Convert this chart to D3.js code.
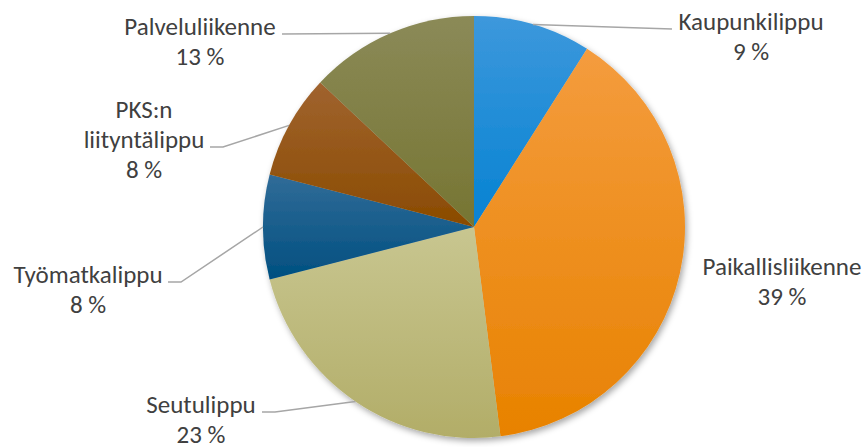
<!DOCTYPE html>
<html>
<head>
<meta charset="utf-8">
<script src="https://cdn.jsdelivr.net/npm/d3@7"></script>
<style>
  body { margin: 0; background: #fff; }
  svg { display: block; }
  text { font-family: Carlito, Calibri, "Open Sans", sans-serif; fill: #404040; }
</style>
</head>
<body>
<div id="chart"></div>
<script>
// data
var categories = ["Kaupunkilippu", "Paikallisliikenne", "Seutulippu", "Työmatkalippu", "PKS:n liityntälippu", "Palveluliikenne"];
var shares = [9, 39, 23, 8, 8, 13];
var labelLines = [["Kaupunkilippu"], ["Paikallisliikenne"], ["Seutulippu"], ["Työmatkalippu"], ["PKS:n", "liityntälippu"], ["Palveluliikenne"]];

// colours: light top / dark bottom
var colorTop = ["#3d98dc", "#f49c3e", "#c8c690", "#316c98", "#a0632f", "#8b8a58"];
var colorBot = ["#0582d2", "#e88200", "#b2ad68", "#004f80", "#8a4b00", "#767532"];

// label layout (text centre x, first baseline y, elbow length)
var labelLayout = [
    {x: 751, y: 30, side: 1, elbow: 0},
    {x: 782, y: 275, side: 1, elbow: null},
    {x: 201, y: 413, side: -1, elbow: 13},
    {x: 88, y: 283, side: -1, elbow: 13},
    {x: 144, y: 118, side: -1, elbow: 13},
    {x: 200, y: 35, side: -1, elbow: 0}
];
var leaderEnd = [672, null, 262, 168, 210, 282];

var width = 864, height = 447,
    cx = 474, cy = 227, radius = 211,
    lineH = 30;

var svg = d3.select("#chart").append("svg")
    .attr("width", width)
    .attr("height", height);

var defs = svg.append("defs");

var shadow = defs.append("filter")
    .attr("id", "shadow")
    .attr("x", "-10%").attr("y", "-10%")
    .attr("width", "125%").attr("height", "125%");
shadow.append("feDropShadow")
    .attr("dx", 2).attr("dy", 3)
    .attr("stdDeviation", 3)
    .attr("flood-color", "#000")
    .attr("flood-opacity", 0.35);

categories.forEach(function(c, i) {
    var g = defs.append("linearGradient")
        .attr("id", "grad" + i)
        .attr("x1", 0).attr("y1", 0)
        .attr("x2", 0).attr("y2", 1);
    g.append("stop").attr("offset", "0%").attr("stop-color", colorTop[i]);
    g.append("stop").attr("offset", "100%").attr("stop-color", colorBot[i]);
});

var pie = d3.pie().sort(null).value(d => d);
var arcs = pie(shares);

var arc = d3.arc().innerRadius(0).outerRadius(radius);

var g = svg.append("g")
    .attr("transform", "translate(" + cx + "," + cy + ")");

g.append("g")
    .attr("filter", "url(#shadow)")
    .selectAll("path")
    .data(arcs)
    .join("path")
    .attr("d", arc)
    .attr("fill", (d, i) => "url(#grad" + i + ")");

// leader lines
var edge = d3.arc().innerRadius(radius).outerRadius(radius);

arcs.forEach(function(d, i) {
    var L = labelLayout[i];
    if (L.elbow === null) return;
    var p = edge.centroid(d);
    var sx = p[0] + cx, sy = p[1] + cy;
    var ex = leaderEnd[i];
    var ey = L.y - 1 + (labelLines[i].length > 1 ? lineH : 0);
    var pts = [[sx, sy]];
    if (L.elbow) pts.push([ex - L.side * L.elbow, ey]);
    pts.push([ex, ey]);
    svg.append("path")
        .attr("d", d3.line()(pts))
        .attr("fill", "none")
        .attr("stroke", "#a6a6a6")
        .attr("stroke-width", 1.5);
});

// labels
arcs.forEach(function(d, i) {
    var L = labelLayout[i];
    var t = svg.append("text")
        .attr("text-anchor", "middle")
        .attr("font-size", 25);
    var lines = labelLines[i].concat([shares[i] + " %"]);
    lines.forEach(function(s, k) {
        t.append("tspan")
            .attr("x", L.x)
            .attr("y", L.y + k * lineH)
            .text(s);
    });
});
</script>
</body>
</html>
